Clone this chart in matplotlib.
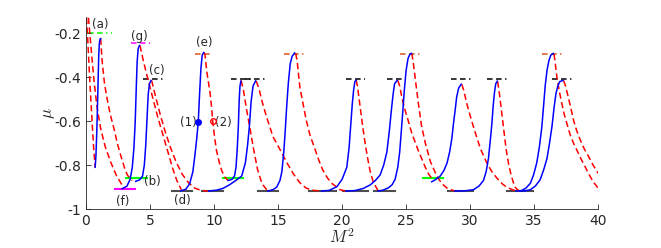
import matplotlib
matplotlib.use('Agg')
import matplotlib.pyplot as plt

plt.rcParams['axes.unicode_minus'] = False
plt.rcParams['mathtext.fontset'] = 'cm'
plt.rcParams['lines.scale_dashes'] = False

# rising branches (blue, solid), (M^2, mu) points
blue_curves = [
    [(0.72,-0.81),(0.78,-0.76),(0.84,-0.66),(0.89,-0.56),(0.95,-0.42),(1.0,-0.3),(1.05,-0.245),(1.1,-0.227),(1.15,-0.225)],
    [(2.84,-0.907),(3.2,-0.896),(3.45,-0.865),(3.62,-0.81),(3.75,-0.72),(3.85,-0.6),(3.93,-0.45),(4.0,-0.33),(4.08,-0.27),(4.18,-0.256)],
    [(3.88,-0.874),(4.2,-0.867),(4.42,-0.85),(4.56,-0.8),(4.67,-0.71),(4.77,-0.59),(4.86,-0.48),(4.96,-0.43),(5.08,-0.415)],
    [(7.4,-0.917),(7.8,-0.91),(8.1,-0.885),(8.35,-0.83),(8.52,-0.75),(8.65,-0.68),(8.77,-0.605),(8.88,-0.47),(8.98,-0.36),(9.08,-0.3),(9.2,-0.288)],
    [(11.1,-0.87),(11.4,-0.865),(11.6,-0.85),(11.72,-0.81),(11.82,-0.72),(11.9,-0.626),(11.97,-0.5),(12.03,-0.44),(12.1,-0.418)],
    [(9.6,-0.918),(10.2,-0.914),(10.7,-0.906),(11.2,-0.89),(11.7,-0.87),(12.16,-0.85),(12.45,-0.79),(12.62,-0.71),(12.76,-0.626),(12.9,-0.51),(13.05,-0.44),(13.25,-0.417)],
    [(14.2,-0.918),(14.6,-0.912),(14.9,-0.9),(15.15,-0.87),(15.3,-0.83),(15.45,-0.74),(15.55,-0.655),(15.68,-0.53),(15.8,-0.43),(15.95,-0.34),(16.1,-0.305),(16.3,-0.29)],
    [(18.4,-0.918),(19.0,-0.915),(19.6,-0.898),(20.0,-0.865),(20.37,-0.81),(20.55,-0.72),(20.7,-0.6),(20.8,-0.52),(20.9,-0.46),(21.0,-0.42),(21.1,-0.414)],
    [(20.3,-0.918),(21.0,-0.916),(21.67,-0.906),(22.2,-0.89),(22.6,-0.87),(22.97,-0.845),(23.25,-0.8),(23.5,-0.74),(23.7,-0.64),(23.85,-0.55),(23.98,-0.48),(24.1,-0.43),(24.3,-0.415)],
    [(22.8,-0.918),(23.2,-0.914),(23.6,-0.904),(23.9,-0.89),(24.14,-0.865),(24.35,-0.81),(24.5,-0.74),(24.62,-0.65),(24.75,-0.55),(24.86,-0.46),(25.0,-0.37),(25.15,-0.315),(25.3,-0.295),(25.42,-0.292)],
    [(27.0,-0.876),(27.3,-0.866),(27.66,-0.85),(27.95,-0.825),(28.2,-0.79),(28.4,-0.74),(28.57,-0.68),(28.7,-0.61),(28.83,-0.55),(28.95,-0.49),(29.1,-0.45),(29.3,-0.432)],
    [(28.8,-0.918),(29.6,-0.917),(30.26,-0.912),(30.7,-0.895),(31.04,-0.87),(31.25,-0.83),(31.43,-0.77),(31.57,-0.69),(31.7,-0.61),(31.8,-0.53),(31.9,-0.47),(32.0,-0.43),(32.12,-0.418)],
    [(33.6,-0.918),(34.0,-0.916),(34.35,-0.905),(34.7,-0.883),(34.95,-0.845),(35.2,-0.79),(35.4,-0.72),(35.6,-0.626),(35.75,-0.52),(35.86,-0.44),(36.0,-0.37),(36.15,-0.325),(36.3,-0.3),(36.5,-0.292)],
    [(33.9,-0.918),(34.3,-0.917),(34.7,-0.912),(35.1,-0.895),(35.47,-0.866),(35.75,-0.82),(36.0,-0.77),(36.2,-0.7),(36.4,-0.62),(36.55,-0.54),(36.7,-0.475),(36.85,-0.44),(37.0,-0.42),(37.25,-0.415)],
]

# falling branches (red, dashed)
red_curves = [
    [(0.05,-0.13),(0.16,-0.25),(0.27,-0.38),(0.38,-0.5),(0.49,-0.61),(0.6,-0.72),(0.72,-0.81)],
    [(0.2,-0.13),(0.3,-0.2),(0.45,-0.3),(0.62,-0.41),(0.85,-0.53),(1.15,-0.634),(1.5,-0.715),(1.93,-0.786),(2.4,-0.85),(2.97,-0.905)],
    [(1.15,-0.225),(1.2,-0.27),(1.27,-0.33),(1.45,-0.43),(1.66,-0.5),(1.9,-0.57),(2.19,-0.634),(2.45,-0.7),(2.71,-0.755),(3.0,-0.81),(3.23,-0.845),(3.6,-0.87)],
    [(4.22,-0.256),(4.5,-0.33),(4.8,-0.4),(5.2,-0.49),(5.6,-0.58),(6.0,-0.66),(6.4,-0.74),(6.8,-0.82),(7.1,-0.87),(7.45,-0.912)],
    [(5.13,-0.415),(5.4,-0.48),(5.8,-0.57),(6.2,-0.65),(6.6,-0.72),(7.0,-0.78),(7.5,-0.84),(8.0,-0.88),(8.5,-0.905),(9.0,-0.915),(9.5,-0.918)],
    [(9.22,-0.288),(9.3,-0.3),(9.45,-0.38),(9.69,-0.47),(9.8,-0.53),(9.9,-0.6),(10.05,-0.675),(10.2,-0.735),(10.4,-0.785),(10.6,-0.825),(10.85,-0.855),(11.1,-0.87)],
    [(12.12,-0.415),(12.3,-0.46),(12.55,-0.55),(12.8,-0.63),(13.1,-0.73),(13.4,-0.82),(13.75,-0.885),(14.2,-0.918)],
    [(13.3,-0.418),(13.5,-0.45),(13.8,-0.52),(14.1,-0.58),(14.6,-0.67),(15.16,-0.73),(15.7,-0.79),(16.2,-0.84),(16.7,-0.88),(17.2,-0.905),(17.8,-0.915),(18.4,-0.918)],
    [(16.38,-0.292),(16.5,-0.33),(16.7,-0.444),(16.95,-0.52),(17.2,-0.595),(17.5,-0.665),(17.9,-0.73),(18.2,-0.78),(18.5,-0.823),(18.85,-0.858),(19.2,-0.883),(19.84,-0.912),(20.3,-0.918)],
    [(21.1,-0.414),(21.2,-0.44),(21.4,-0.53),(21.6,-0.62),(21.8,-0.7),(22.0,-0.77),(22.2,-0.83),(22.45,-0.88),(22.8,-0.915)],
    [(24.35,-0.415),(24.5,-0.44),(24.66,-0.49),(24.92,-0.55),(25.2,-0.605),(25.45,-0.656),(25.7,-0.695),(25.96,-0.735),(26.25,-0.775),(26.5,-0.81),(26.75,-0.84),(27.0,-0.86)],
    [(25.45,-0.292),(25.55,-0.33),(25.7,-0.4),(25.85,-0.47),(25.96,-0.52),(26.2,-0.62),(26.5,-0.70),(26.9,-0.785),(27.4,-0.85),(27.8,-0.885),(28.2,-0.905),(28.8,-0.918)],
    [(29.35,-0.433),(29.5,-0.46),(29.74,-0.52),(30.0,-0.575),(30.26,-0.626),(30.55,-0.68),(30.8,-0.725),(31.3,-0.79),(31.7,-0.83),(32.1,-0.86),(32.5,-0.885),(32.9,-0.902),(33.4,-0.914),(33.7,-0.918)],
    [(32.15,-0.42),(32.25,-0.46),(32.34,-0.5),(32.47,-0.565),(32.6,-0.626),(32.73,-0.69),(32.86,-0.747),(33.02,-0.8),(33.18,-0.84),(33.35,-0.875),(33.5,-0.9),(33.7,-0.912),(33.9,-0.918)],
    [(36.55,-0.295),(36.65,-0.34),(36.77,-0.398),(36.95,-0.46),(37.16,-0.52),(37.35,-0.57),(37.55,-0.61),(37.8,-0.66),(38.07,-0.70),(38.4,-0.74),(38.7,-0.777),(39.0,-0.81),(39.24,-0.838),(39.6,-0.875),(40.0,-0.905)],
    [(37.3,-0.416),(37.45,-0.44),(37.7,-0.5),(37.9,-0.55),(38.07,-0.595),(38.3,-0.64),(38.6,-0.686),(38.9,-0.725),(39.24,-0.76),(39.6,-0.8),(40.0,-0.838)],
]

# level markers at the peaks (dash-dot) : x start, x end, mu, colour
peak_levels = [
    (0.15, 2.0, -0.2, (0, 1, 0)),
    (3.5, 5.0, -0.245, (1, 0, 1)),
    (4.45, 6.0, -0.41, 'k'),
    (8.5, 9.9, -0.295, (0.85, 0.33, 0.1)),
    (11.3, 12.9, -0.41, 'k'),
    (12.4, 14.0, -0.41, 'k'),
    (15.5, 17.0, -0.295, (0.85, 0.33, 0.1)),
    (20.3, 21.8, -0.41, 'k'),
    (23.5, 24.8, -0.41, 'k'),
    (24.5, 26.1, -0.295, (0.85, 0.33, 0.1)),
    (28.5, 30.1, -0.41, 'k'),
    (31.3, 32.9, -0.41, 'k'),
    (35.6, 37.2, -0.295, (0.85, 0.33, 0.1)),
    (36.4, 38.0, -0.41, 'k'),
]

# level markers at the minima (solid)
min_levels = [
    (3.1, 4.8, -0.86, (0, 1, 0)),
    (2.3, 3.8, -0.909, (1, 0, 1)),
    (6.7, 8.3, -0.918, (0.3, 0.3, 0.3)),
    (9.1, 10.7, -0.918, (0.3, 0.3, 0.3)),
    (10.7, 12.3, -0.86, (0, 1, 0)),
    (13.4, 15.0, -0.918, (0.3, 0.3, 0.3)),
    (17.4, 19.5, -0.918, (0.3, 0.3, 0.3)),
    (20.1, 22.0, -0.918, (0.3, 0.3, 0.3)),
    (22.5, 24.1, -0.918, (0.3, 0.3, 0.3)),
    (26.3, 27.9, -0.86, (0, 1, 0)),
    (28.3, 30.2, -0.918, (0.3, 0.3, 0.3)),
    (32.9, 34.9, -0.918, (0.3, 0.3, 0.3)),
]

labels = [('(a)', 1.1, -0.16), ('(g)', 4.2, -0.215), ('(c)', 5.5, -0.37),
          ('(b)', 5.2, -0.873), ('(f)', 2.9, -0.967), ('(d)', 7.5, -0.96),
          ('(e)', 9.25, -0.244), ('(1)', 8.0, -0.606), ('(2)', 10.75, -0.606)]
point1 = (8.77, -0.605)
point2 = (9.9, -0.6)

xticks = [0, 5, 10, 15, 20, 25, 30, 35, 40]
yticks = [-1, -0.8, -0.6, -0.4, -0.2]
ytick_labels = ['-1', '-0.8', '-0.6', '-0.4', '-0.2']

fig = plt.figure(figsize=(6.61, 2.48), dpi=100)
ax = fig.add_axes([0.130, 0.157, 0.775, 0.774])

for x0, x1, y, c in min_levels:
    ax.plot([x0, x1], [y, y], color=c, lw=1.5, zorder=1)
for x0, x1, y, c in peak_levels:
    ax.plot([x0, x1], [y, y], color=c, lw=1.1, dashes=(4, 2.5, 4, 2.5, 1, 2.5), zorder=1)

for pts in blue_curves:
    ax.plot([p[0] for p in pts], [p[1] for p in pts], color='b', lw=1.1, zorder=3)
for pts in red_curves:
    ax.plot([p[0] for p in pts], [p[1] for p in pts], color='r', lw=1.1, dashes=(4.5, 2.5), zorder=2)

ax.plot(point1[0], point1[1], 'o', color='b', ms=4, zorder=4)
ax.plot(point2[0], point2[1], 'o', mfc='none', mec='r', ms=4, mew=1, zorder=4)

for s, x, y in labels:
    ax.text(x, y, s, fontsize=8.5, ha='center', va='center', color='0.15')

ax.set_xlim(0, 40)
ax.set_ylim(-1, -0.127)
ax.set_xticks(xticks)
ax.set_yticks(yticks)
ax.set_yticklabels(ytick_labels)
ax.tick_params(direction='in', length=3.5, width=0.6, labelsize=10, colors='0.15')
for side in ['top', 'right']:
    ax.spines[side].set_visible(False)
for side in ['bottom', 'left']:
    ax.spines[side].set_color('0.15')
    ax.spines[side].set_linewidth(0.6)
ax.set_xlabel(r'$M^2$', fontsize=12, color='0.15', labelpad=0)
ax.set_ylabel(r'$\mu$', fontsize=12, color='0.15', labelpad=-2)

plt.savefig('out.png', dpi=100)
